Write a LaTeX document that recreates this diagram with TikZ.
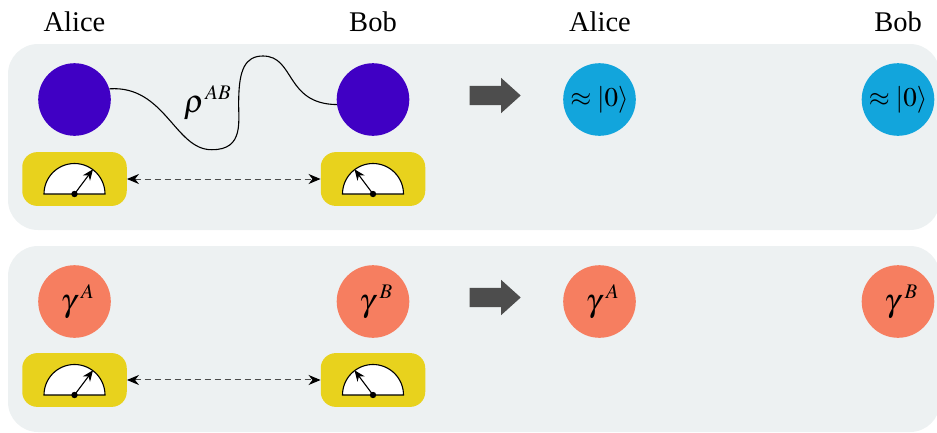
\documentclass[tikz,border=0pt]{standalone}
\usepackage{amsmath}
\usepackage{mathptmx}
\usepackage[no-math]{fontspec}
\setmainfont{Liberation Serif}
\usetikzlibrary{arrows.meta,shapes.arrows}
\definecolor{panelgrey}{HTML}{EDF1F2}
\definecolor{statepurple}{HTML}{4000C4}
\definecolor{stateblue}{HTML}{12A5DC}
\definecolor{stateorange}{HTML}{F67E60}
\definecolor{meteryellow}{HTML}{E8D21D}
\definecolor{arrowgrey}{HTML}{4D4D4D}
\newcommand{\statelabel}[3][4mu]{\hspace*{6pt}\raisebox{4pt}{$\scalebox{1.15}{$#2$}^{\mkern#1\raisebox{3pt}{$\scriptstyle #3$}}$}}
\tikzset{
  panel/.style={fill=panelgrey,rounded corners=30pt,minimum width=932pt,minimum height=186pt,inner sep=0pt},
  party/.style={font=\fontsize{28.5}{32}\selectfont,inner sep=0pt},
  state/.style={circle,minimum size=72.6pt,inner sep=0pt,font=\fontsize{28}{32}\selectfont},
  meterbox/.style={fill=meteryellow,rounded corners=15pt,minimum width=104.5pt,minimum height=53.8pt,inner sep=0pt},
  bigarrow/.style={single arrow,fill=arrowgrey,minimum height=51pt,minimum width=35pt,inner xsep=0pt,inner ysep=9.5pt,
    single arrow head extend=8pt,single arrow tip angle=84,anchor=tip},
  needle/.style={-{Stealth[length=11pt,width=9pt]},line width=1.1pt},
  classical/.style={{Stealth[length=12pt,width=10pt,color=black]}-{Stealth[length=12pt,width=10pt,color=black]},
    dashed,dash pattern=on 6pt off 4pt,line width=1pt,draw=black!70}
}
\begin{document}
\begin{tikzpicture}[x=1pt,y=-1pt]
  \useasboundingbox (0,0) rectangle (937,432);
  \clip (0,0) rectangle (937,432);
  \foreach \X [count=\Y] in {0,202}
    {\node[panel] (P-\Y) at (474,137+\X) {};
    % arrow between the two columns
    \node[bigarrow] (T-\Y) at (521,95.5+\X) {};
    \foreach \Z/\W/\U in {A/74.5/-1,B/373/1}
      {\node[meterbox] (M-\Z-\Y) at (\W,179+\X*0.995) {};
      \coordinate (C-\Z-\Y) at (\W,194+\X*0.995);
      \coordinate (N-\Z-\Y) at (\W-\U*18.5,169.3+\X*0.995);
      \draw[line width=1.1pt,fill=white] ([xshift=-30.5pt]C-\Z-\Y) arc(180:0:30.5pt) -- cycle;
      \draw[needle] (C-\Z-\Y) -- (N-\Z-\Y);
      \fill (C-\Z-\Y) circle (3.2pt);}
    \draw[classical] (M-A-\Y.east) -- (M-B-\Y.west);}
  \node[party] (L-1) at (74.5,22) {Alice};
  \node[party] (L-2) at (373,22) {Bob};
  \node[party] (L-3) at (600,22) {Alice};
  \node[party] (L-4) at (898,22) {Bob};
  \node[state,fill=statepurple] (A-1) at (74.5,99.5) {};
  \node[state,fill=statepurple] (B-1) at (373,99.5) {};
  \node[state,fill=stateblue,font=\fontsize{27}{30}\selectfont] (A-2) at (599.5,99.5) {$\approx|0\rangle$};
  \node[state,fill=stateblue,font=\fontsize{27}{30}\selectfont] (B-2) at (898,99.5) {$\approx|0\rangle$};
  \node[state,fill=stateorange] (A-3) at (74.5,301.5) {\statelabel{\gamma}{A}};
  \node[state,fill=stateorange] (B-3) at (373,301.5) {\statelabel{\gamma}{B}};
  \node[state,fill=stateorange] (A-4) at (599.5,301.5) {\statelabel{\gamma}{A}};
  \node[state,fill=stateorange] (B-4) at (898,301.5) {\statelabel{\gamma}{B}};
  \draw[line width=1.1pt] (A-1.17) .. controls (165,85) and (175,150) .. (211.7,149.7)
    .. controls (245,150) and (238,120) .. (238.7,100)
    .. controls (239,70) and (245,56) .. (263,56)
    .. controls (295,56) and (285,104) .. (B-1.188);
  \node[state,minimum size=0pt] (R-1) at (204.5,103) {\statelabel[1mu]{\rho}{AB}};
\end{tikzpicture}
\end{document}
